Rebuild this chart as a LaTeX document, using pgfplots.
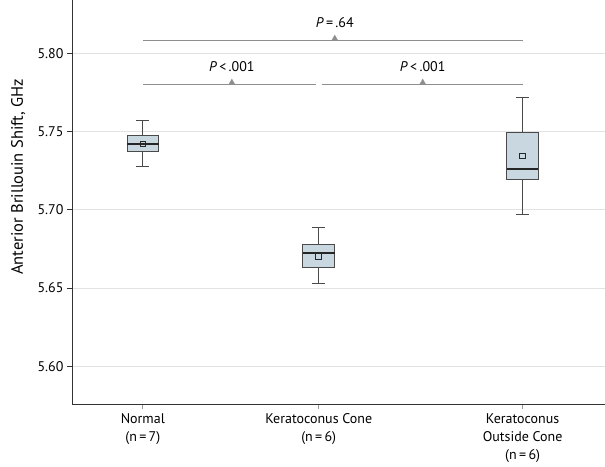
\documentclass[border=0pt]{standalone}
\usepackage{fontspec}
\setmainfont{PT Sans}
\usepackage{pgfplots}
\pgfplotsset{compat=1.18}
\usepgfplotslibrary{statistics}
\definecolor{boxfill}{HTML}{C9D8E0}
\definecolor{boxdraw}{HTML}{4A4A4A}
\definecolor{brgray}{HTML}{8E8E8E}
\definecolor{gridgray}{HTML}{E2E2E2}
\begin{document}
\begin{tikzpicture}[font=\fontsize{14}{18}\selectfont]
\begin{axis}[
  scale only axis, width=533pt, height=404pt,
  xmin=-0.403, xmax=2.625, ymin=5.5757, ymax=5.8339,
  axis x line=bottom, axis y line=left,
  axis line style={-, draw=black!80, line width=0.8pt},
  xtick={0,1,2.159},
  xticklabels={{Normal\\(n\,=\,7)},{Keratoconus Cone\\(n\,=\,6)},{Keratoconus\\Outside Cone\\(n\,=\,6)}},
  xticklabel style={align=center, text depth=0pt, yshift=-1pt},
  x tick style={draw=black!40, line width=0.8pt},
  ytick={5.60,5.65,5.70,5.75,5.80},
  yticklabel style={/pgf/number format/.cd, fixed, fixed zerofill, precision=2, assume math mode=true},
  y tick style={draw=black!80, line width=0.8pt},
  tick align=outside, major tick length=5pt,
  ymajorgrids, grid style={draw=gridgray, line width=0.8pt},
  ylabel={Anterior Brillouin Shift, GHz},
  ylabel style={at={(axis description cs:-0.101,0.563)}, anchor=center, font=\fontsize{16.5}{20}\selectfont},
  clip=false,
  boxplot/draw direction=y,
  boxplot/every box/.style={draw=boxdraw, fill=boxfill, line width=1pt},
  boxplot/every whisker/.style={draw=boxdraw, line width=1pt},
  boxplot/every median/.style={draw=black!85, line width=1.8pt},
]
\addplot[boxplot prepared={draw position=0, lower whisker=5.7278, lower quartile=5.7374, median=5.7423, upper quartile=5.7476, upper whisker=5.7572, box extend=0.18, whisker extend=0.074, draw direction=y}, draw=boxdraw, solid] coordinates {};
\addplot[boxplot prepared={draw position=1, lower whisker=5.6526, lower quartile=5.6628, median=5.6722, upper quartile=5.6778, upper whisker=5.6886, box extend=0.18, whisker extend=0.074, draw direction=y}, draw=boxdraw, solid] coordinates {};
\addplot[boxplot prepared={draw position=2.159, lower whisker=5.6971, lower quartile=5.7195, median=5.7261, upper quartile=5.7495, upper whisker=5.7721, box extend=0.18, whisker extend=0.074, draw direction=y}, draw=boxdraw, solid] coordinates {};
\addplot[only marks, mark=square, mark size=2.8pt, mark options={draw=black!85, line width=1pt}] coordinates {(0,5.7420)(1,5.6703)(2.159,5.7344)};
% brackets
\addplot[brgray, line width=1.2pt] coordinates {(0,5.8083)(2.159,5.8083)};
\addplot[brgray, line width=1.2pt] coordinates {(0,5.7802)(0.983,5.7802)};
\addplot[brgray, line width=1.2pt] coordinates {(1.017,5.7802)(2.159,5.7802)};
\addplot[only marks, mark=triangle*, mark size=3.5pt, mark options={fill=brgray, draw=brgray}] coordinates {(1.091,5.8094)(0.506,5.7813)(1.591,5.7813)};
\node at (axis cs:1.091,5.8198) {\textit{P}\,=\,.64};
\node at (axis cs:0.506,5.7913) {\textit{P}\,<\,.001};
\node at (axis cs:1.591,5.7913) {\textit{P}\,<\,.001};
\path (rel axis cs:0,0) ++(-72pt,-62pt);
\path (rel axis cs:1,1);
\end{axis}
\end{tikzpicture}
\end{document}
